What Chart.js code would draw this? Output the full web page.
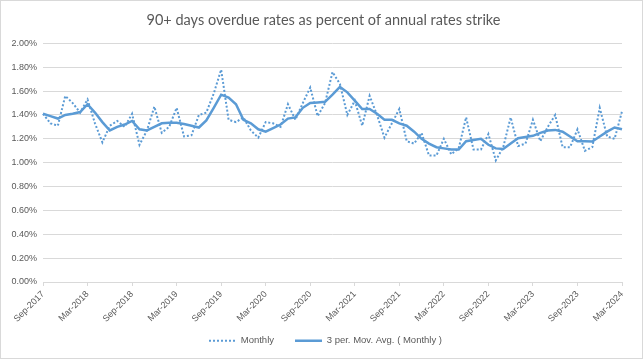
<!DOCTYPE html>
<html>
<head>
<meta charset="utf-8">
<script src="https://cdn.jsdelivr.net/npm/chart.js@4.4.1/dist/chart.umd.min.js"></script>
<style>
    html, body { margin: 0; padding: 0; background: #fff; }
    #marco { width: 643px; height: 359px; }
</style>
</head>
<body>
<div id="marco"><canvas id="grafico" width="643" height="359"></canvas></div>
<script>
// Meses, de Sep-2017 a Mar-2024
const meses = [
    'Sep-2017', 'Oct-2017', 'Nov-2017', 'Dec-2017',
    'Jan-2018', 'Feb-2018', 'Mar-2018', 'Apr-2018', 'May-2018', 'Jun-2018', 'Jul-2018', 'Aug-2018', 'Sep-2018', 'Oct-2018', 'Nov-2018', 'Dec-2018',
    'Jan-2019', 'Feb-2019', 'Mar-2019', 'Apr-2019', 'May-2019', 'Jun-2019', 'Jul-2019', 'Aug-2019', 'Sep-2019', 'Oct-2019', 'Nov-2019', 'Dec-2019',
    'Jan-2020', 'Feb-2020', 'Mar-2020', 'Apr-2020', 'May-2020', 'Jun-2020', 'Jul-2020', 'Aug-2020', 'Sep-2020', 'Oct-2020', 'Nov-2020', 'Dec-2020',
    'Jan-2021', 'Feb-2021', 'Mar-2021', 'Apr-2021', 'May-2021', 'Jun-2021', 'Jul-2021', 'Aug-2021', 'Sep-2021', 'Oct-2021', 'Nov-2021', 'Dec-2021',
    'Jan-2022', 'Feb-2022', 'Mar-2022', 'Apr-2022', 'May-2022', 'Jun-2022', 'Jul-2022', 'Aug-2022', 'Sep-2022', 'Oct-2022', 'Nov-2022', 'Dec-2022',
    'Jan-2023', 'Feb-2023', 'Mar-2023', 'Apr-2023', 'May-2023', 'Jun-2023', 'Jul-2023', 'Aug-2023', 'Sep-2023', 'Oct-2023', 'Nov-2023', 'Dec-2023',
    'Jan-2024', 'Feb-2024', 'Mar-2024'
];

// Tasa mensual (%)
const mensual = [
    1.41, 1.33, 1.31, 1.56,
    1.50, 1.42, 1.53, 1.33, 1.17, 1.31, 1.35, 1.30, 1.41, 1.15, 1.27, 1.47,
    1.25, 1.30, 1.46, 1.22, 1.23, 1.40, 1.42, 1.58, 1.78, 1.36, 1.34, 1.38,
    1.27, 1.21, 1.34, 1.33, 1.30, 1.49, 1.36, 1.50, 1.63, 1.39, 1.50, 1.76,
    1.66, 1.40, 1.52, 1.31, 1.56, 1.40, 1.21, 1.33, 1.45, 1.18, 1.16, 1.25,
    1.06, 1.06, 1.20, 1.07, 1.12, 1.38, 1.11, 1.11, 1.24, 1.02, 1.13, 1.38,
    1.14, 1.16, 1.36, 1.18, 1.30, 1.40, 1.13, 1.13, 1.28, 1.10, 1.13, 1.46,
    1.22, 1.20, 1.43
];

// Media movil de 3 periodos (%)
const mediaMovil = [
    1.41, 1.39, 1.37, 1.40,
    1.41, 1.425, 1.49, 1.42, 1.34, 1.27, 1.30, 1.32, 1.35, 1.28, 1.27, 1.30,
    1.33, 1.335, 1.335, 1.325, 1.31, 1.295, 1.355, 1.46, 1.57, 1.545, 1.49, 1.36,
    1.33, 1.28, 1.26, 1.29, 1.32, 1.37, 1.38, 1.46, 1.50, 1.505, 1.51, 1.57,
    1.635, 1.59, 1.52, 1.45, 1.45, 1.41, 1.36, 1.36, 1.33, 1.31, 1.26, 1.20,
    1.16, 1.13, 1.12, 1.11, 1.11, 1.18, 1.19, 1.20, 1.15, 1.12, 1.115, 1.16,
    1.205, 1.215, 1.225, 1.25, 1.27, 1.275, 1.26, 1.22, 1.18, 1.18, 1.178, 1.22,
    1.26, 1.295, 1.28
];

const ejeY = { min: 0, max: 2.0, paso: 0.2 };
const gris = '#595959';
const lineaGris = '#d9d9d9';
const azul = '#5B9BD5';

// fondo blanco y borde del grafico
const marco = {
    id: 'marco',
    beforeDraw(chart) {
        const ctx = chart.ctx;
        ctx.save();
        ctx.fillStyle = '#fff';
        ctx.fillRect(0, 0, chart.width, chart.height);
        ctx.strokeStyle = lineaGris;
        ctx.lineWidth = 1;
        ctx.strokeRect(0.5, 0.5, chart.width - 1, chart.height - 1);
        ctx.restore();
    }
};

// alto fijo de la leyenda (el padding grande es solo para separar los items)
// y pequeños ajustes de posicion del titulo y la leyenda
const ajustes = {
    id: 'ajustes',
    beforeLayout(chart) {
        const leyenda = chart.legend;
        if (leyenda && !leyenda._fijada) {
            const fitOriginal = leyenda.fit.bind(leyenda);
            leyenda.fit = function () {
                fitOriginal();
                this.height = 33;
            };
            leyenda._fijada = true;
        }
    },
    afterLayout(chart) {
        const titulo = chart.titleBlock;
        if (titulo) {
            titulo.left += 8.5;
            titulo.right += 8.5;
        }
        const leyenda = chart.legend;
        if (leyenda) {
            leyenda.top -= 8;
            leyenda.bottom -= 8;
            leyenda.left += 10.5;
            leyenda.right += 10.5;
        }
    }
};

const ctx = document.getElementById('grafico').getContext('2d');
const grafico = new Chart(ctx, {
    type: 'line',
    data: {
        labels: meses,
        datasets: [{
            label: 'Monthly',
            data: mensual,
            borderColor: azul,
            backgroundColor: 'transparent',
            borderWidth: 2,
            borderDash: [2, 2],
            pointRadius: 0,
            tension: 0,
            order: 1
        }, {
            label: '3 per. Mov. Avg. ( Monthly )',
            data: mediaMovil,
            borderColor: azul,
            backgroundColor: 'transparent',
            borderWidth: 2.5,
            pointRadius: 0,
            tension: 0,
            order: 0
        }]
    },
    options: {
        responsive: false,
        animation: false,
        devicePixelRatio: 1,
        layout: { padding: { left: 8, right: 21, top: 6, bottom: 3 } },
        plugins: {
            title: {
                display: true,
                text: '90+ days overdue rates as percent of annual rates strike',
                color: gris,
                font: { family: 'Lato', size: 14.5, weight: 'normal' },
                padding: { top: 6, bottom: 14 }
            },
            legend: {
                position: 'bottom',
                labels: {
                    color: gris,
                    font: { family: 'Liberation Sans', size: 9.5 },
                    boxWidth: 27,
                    boxHeight: 0,
                    padding: 21,
                    sort: (a, b) => a.datasetIndex - b.datasetIndex
                }
            },
            tooltip: { enabled: false }
        },
        scales: {
            x: {
                afterFit: (escala) => { escala.height = 41; },
                grid: {
                    drawOnChartArea: false,
                    tickLength: 4,
                    color: (c) => (c.index % 6 === 0 ? lineaGris : 'transparent')
                },
                border: { display: true, color: lineaGris },
                ticks: {
                    autoSkip: false,
                    minRotation: 45,
                    maxRotation: 45,
                    color: gris,
                    font: { family: 'Liberation Sans', size: 9 },
                    callback: (valor, i) => (i % 6 === 0 ? meses[i] : '')
                }
            },
            y: {
                min: ejeY.min,
                max: ejeY.max,
                afterFit: (escala) => { escala.width = 35; },
                grid: { color: lineaGris, drawTicks: false },
                border: { display: false },
                ticks: {
                    stepSize: ejeY.paso,
                    padding: 6,
                    color: gris,
                    font: { family: 'Liberation Sans', size: 9 },
                    callback: (v) => v.toFixed(2) + '%'
                }
            }
        }
    },
    plugins: [marco, ajustes]
});
</script>
</body>
</html>
